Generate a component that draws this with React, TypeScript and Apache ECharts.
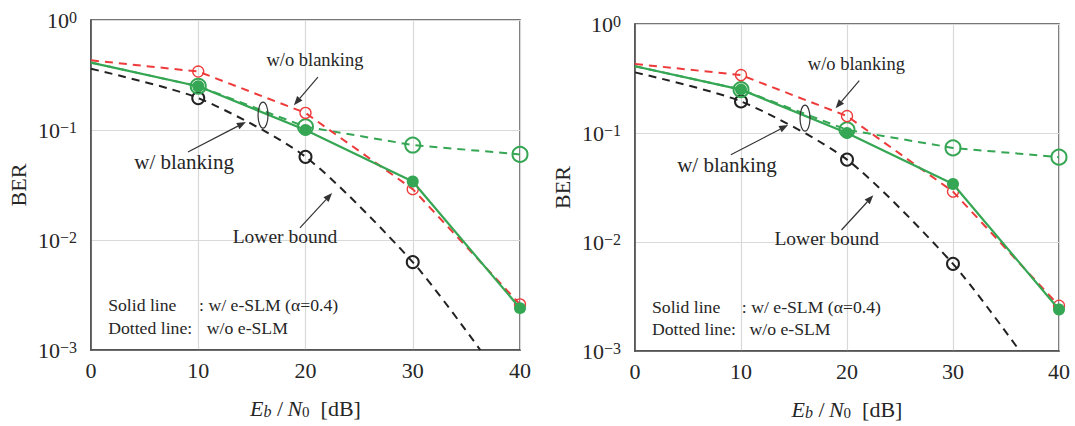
import React, { useEffect, useRef } from "react";
import * as echarts from "echarts";

// ---- data ----
const snrTicks = [0, 10, 20, 30, 40];
const markedX = [10, 20, 30, 40];

const redX = [0, 10, 20, 30, 40];
const redBER = [0.43, 0.34, 0.143, 0.029, 0.0026]; // w/o blanking, w/o e-SLM (dashed)

const greenSolidX = [0, 10, 20, 30, 40];
const greenSolidBER = [0.41, 0.25, 0.1, 0.034, 0.0024]; // w/ blanking, w/ e-SLM (solid)

const greenDashX = [0, 10, 20, 30, 40];
const greenDashBER = [0.41, 0.25, 0.107, 0.073, 0.06]; // w/ blanking, w/o e-SLM (dashed)

const lowerX = [0, 10, 20, 30, 36.3];
const lowerBER = [0.36, 0.195, 0.057, 0.0063, 0.001]; // lower bound

const berTicks = [1, 0.1, 0.01, 0.001];

// ---- styling ----
const FONT = '"Liberation Serif", "DejaVu Serif", serif';
const RED = "#ee3a3a";
const GREEN = "#35a653";
const BLACK = "#222222";
const TEXT = "#262626";

const panels = [
  { left: 91, top: 20, width: 429, height: 330 },
  { left: 635, top: 24, width: 424, height: 327 },
];

function buildData(xs: number[], ys: number[]) {
  return xs.map((x, i) =>
    markedX.indexOf(x) >= 0 ? { value: [x, ys[i]] } : { value: [x, ys[i]], symbol: "none" }
  );
}

function arrow(p: any, fx1: number, fy1: number, fx2: number, fy2: number) {
  const x1 = p.left + fx1 * p.width;
  const y1 = p.top + fy1 * p.height;
  const x2 = p.left + fx2 * p.width;
  const y2 = p.top + fy2 * p.height;
  const dx = x2 - x1;
  const dy = y2 - y1;
  const len = Math.sqrt(dx * dx + dy * dy);
  const ux = dx / len;
  const uy = dy / len;
  const hl = 9;
  const hw = 3.5;
  const bx = x2 - ux * hl;
  const by = y2 - uy * hl;
  return [
    {
      type: "line",
      shape: { x1, y1, x2: bx, y2: by },
      style: { stroke: "#333", lineWidth: 1.2 },
      z: 100,
    },
    {
      type: "polygon",
      shape: {
        points: [
          [x2, y2],
          [bx - uy * hw, by + ux * hw],
          [bx + uy * hw, by - ux * hw],
        ],
      },
      style: { fill: "#333" },
      z: 100,
    },
  ];
}

function label(p: any, fx: number, fy: number, text: string, size: number, align = "center") {
  return {
    type: "text",
    x: p.left + fx * p.width,
    y: p.top + fy * p.height,
    z: 100,
    style: {
      text,
      fontFamily: FONT,
      fontSize: size,
      fill: TEXT,
      align,
      verticalAlign: "middle",
    },
  };
}

function panelGraphics(p: any) {
  return [
    label(p, 0.522, 0.121, "w/o blanking", 18.5),
    ...arrow(p, 0.529, 0.173, 0.473, 0.258),
    {
      type: "ellipse",
      shape: { cx: p.left + 0.401 * p.width, cy: p.top + 0.288 * p.height, rx: 5, ry: 13 },
      style: { fill: "none", stroke: "#333", lineWidth: 1.2 },
      z: 100,
    },
    label(p, 0.217, 0.43, "w/ blanking", 21),
    ...arrow(p, 0.226, 0.4, 0.361, 0.309),
    label(p, 0.452, 0.655, "Lower bound", 19.5),
    ...arrow(p, 0.487, 0.63, 0.562, 0.524),
    label(p, 0.04, 0.864, "Solid line", 17.7, "left"),
    label(p, 0.252, 0.864, ": w/ e-SLM (\u03b1=0.4)", 17.7, "left"),
    label(p, 0.04, 0.933, "Dotted line:", 17.7, "left"),
    label(p, 0.27, 0.933, "w/o e-SLM", 17.7, "left"),
  ];
}

export default function App() {
  const ref = useRef<HTMLDivElement>(null);

  useEffect(() => {
    if (!ref.current) return;
    const chart = echarts.init(ref.current, null, { renderer: "svg" });

    const grid = panels.map((p) => ({
      left: p.left,
      top: p.top,
      width: p.width,
      height: p.height,
      show: true,
      borderColor: "#4a4a4a",
      borderWidth: 1.5,
      backgroundColor: "transparent",
    }));

    const xAxis = panels.map((_, i) => ({
      type: "value",
      gridIndex: i,
      min: snrTicks[0],
      max: snrTicks[snrTicks.length - 1],
      interval: 10,
      axisLine: { show: true, lineStyle: { color: "#4a4a4a", width: 1.5 } },
      axisTick: { show: false },
      splitLine: { show: true, lineStyle: { color: "#d9d9d9", width: 1.2 } },
      axisLabel: { fontFamily: FONT, fontSize: 22, color: TEXT, margin: 9 },
      name: "{i|E}{sb|b}{n|\u2009/\u2009}{i|N}{s|0}{n|  [dB]}",
      nameLocation: "middle",
      nameGap: 47,
      nameTextStyle: {
        fontFamily: FONT,
        fontSize: 22,
        color: TEXT,
        rich: {
          i: { fontFamily: FONT, fontStyle: "italic", fontSize: 22, color: TEXT, lineHeight: 22, verticalAlign: "top" },
          n: { fontFamily: FONT, fontSize: 22, color: TEXT, lineHeight: 22, verticalAlign: "top" },
          sb: { fontFamily: FONT, fontStyle: "italic", fontSize: 16, color: TEXT, lineHeight: 12, padding: [10, 1, 0, 0], verticalAlign: "bottom" },
          s: { fontFamily: FONT, fontSize: 15, color: TEXT, lineHeight: 12, padding: [10, 0, 0, 0], verticalAlign: "bottom" },
        },
      },
    }));

    const yAxis = panels.map((_, i) => ({
      type: "log",
      logBase: 10,
      gridIndex: i,
      min: berTicks[berTicks.length - 1],
      max: berTicks[0],
      axisLine: { show: true, lineStyle: { color: "#4a4a4a", width: 1.5 } },
      axisTick: { show: false },
      splitLine: { show: true, lineStyle: { color: "#d9d9d9", width: 1.2 } },
      axisLabel: {
        margin: 14,
        formatter: (v: number) => {
          const e = Math.round(Math.log10(v));
          const s = e < 0 ? "\u2212" + String(-e) : String(e);
          return "{b|10}{s|" + s + "}";
        },
        rich: {
          b: { fontFamily: FONT, fontSize: 22, color: TEXT, lineHeight: 22, verticalAlign: "bottom" },
          s: { fontFamily: FONT, fontSize: 16, color: TEXT, lineHeight: 14, verticalAlign: "top" },
        },
      },
      name: "BER",
      nameLocation: "middle",
      nameGap: 62,
      nameRotate: 90,
      nameTextStyle: { fontFamily: FONT, fontSize: 22, color: TEXT },
    }));

    const series: any[] = [];
    panels.forEach((_, i) => {
      series.push({
        type: "line",
        xAxisIndex: i,
        yAxisIndex: i,
        data: buildData(lowerX, lowerBER),
        symbol: "circle",
        symbolSize: 12,
        smooth: 0.25,
        itemStyle: { color: "transparent", borderColor: BLACK, borderWidth: 2 },
        lineStyle: { color: BLACK, width: 2, type: [8, 6] },
        z: 2,
      });
      series.push({
        type: "line",
        xAxisIndex: i,
        yAxisIndex: i,
        data: buildData(greenDashX, greenDashBER),
        symbol: "circle",
        symbolSize: 15,
        itemStyle: { color: "transparent", borderColor: GREEN, borderWidth: 2 },
        lineStyle: { color: GREEN, width: 2, type: [8, 6] },
        z: 3,
      });
      series.push({
        type: "line",
        xAxisIndex: i,
        yAxisIndex: i,
        data: buildData(redX, redBER),
        symbol: "circle",
        symbolSize: 11,
        itemStyle: { color: "transparent", borderColor: RED, borderWidth: 1.3 },
        lineStyle: { color: RED, width: 2, type: [8, 6] },
        z: 4,
      });
      series.push({
        type: "line",
        xAxisIndex: i,
        yAxisIndex: i,
        data: buildData(greenSolidX, greenSolidBER),
        symbol: "circle",
        symbolSize: 12,
        itemStyle: { color: GREEN, borderColor: GREEN, borderWidth: 0 },
        lineStyle: { color: GREEN, width: 2.2 },
        z: 5,
      });
    });

    const graphic = panels.flatMap((p) => panelGraphics(p));

    chart.setOption({
      animation: false,
      backgroundColor: "#ffffff",
      grid,
      xAxis,
      yAxis,
      series,
      graphic,
    });

    return () => chart.dispose();
  }, []);

  return (
    <div
      ref={ref}
      style={{ position: "fixed", left: 0, top: 0, width: 1075, height: 426 }}
    />
  );
}
